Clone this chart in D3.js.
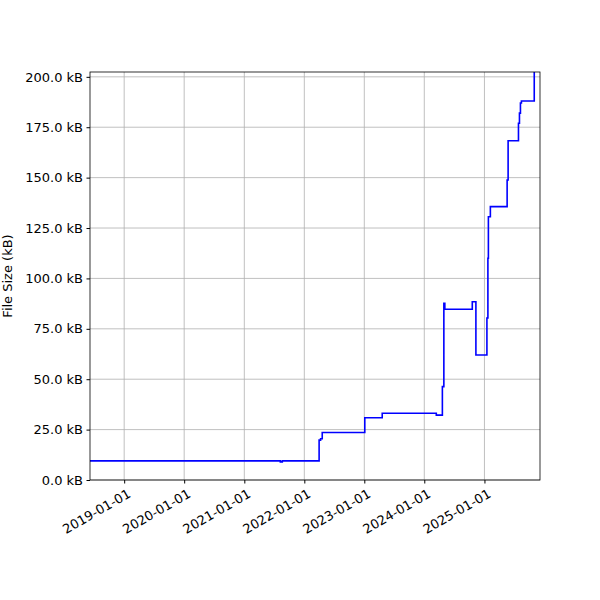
<!DOCTYPE html><html><head><meta charset="utf-8"><script src="https://cdn.jsdelivr.net/npm/d3@7"></script>
<style>body{margin:0;background:#fff}text{font-family:"DejaVu Sans",sans-serif;font-size:13px}</style></head><body><svg id="c" width="600" height="600"></svg><script>
const dates=["2018-06-01","2021-08-08","2021-08-20","2022-04-01","2022-04-10","2022-04-20","2023-01-04","2023-04-20","2024-03-14","2024-04-20","2024-04-29","2024-05-05","2024-10-19","2024-11-10","2025-01-16","2025-01-22","2025-01-25","2025-02-06","2025-05-19","2025-05-25","2025-07-27","2025-08-02","2025-08-08","2025-08-14","2025-10-31","2025-12-31"];
const sizes=[9.5,9.0,9.5,19.8,20.5,23.6,30.9,33.1,32.2,46.3,87.6,84.7,88.4,62.0,80.4,110.0,130.6,135.6,148.8,168.3,177.0,182.0,187.0,188.0,210,210];
const yTicks=[0,25,50,75,100,125,150,175,200];
const xTicks=["2019-01-01","2020-01-01","2021-01-01","2022-01-01","2023-01-01","2024-01-01","2025-01-01"];
const p=d3.timeParse("%Y-%m-%d");
const data=dates.map((d,i)=>({d:p(d),v:sizes[i]}));
const L=90,R=540,T=72,B=480;
const x=d3.scaleTime().domain([p("2018-06-07"),p("2025-12-05")]).range([L,R]);
const y=d3.scaleLinear().domain([0,202.4]).range([B,T]);
const svg=d3.select("#c");
svg.append("g").selectAll("line").data(xTicks).join("line").attr("x1",d=>x(p(d))).attr("x2",d=>x(p(d))).attr("y1",T).attr("y2",B).attr("stroke","#b0b0b0").attr("stroke-width",0.8);
svg.append("g").selectAll("line").data(yTicks).join("line").attr("y1",d=>y(d)).attr("y2",d=>y(d)).attr("x1",L).attr("x2",R).attr("stroke","#b0b0b0").attr("stroke-width",0.8);
svg.append("defs").append("clipPath").attr("id","cl").append("rect").attr("x",L).attr("y",T).attr("width",R-L).attr("height",B-T);
svg.append("path").datum(data).attr("clip-path","url(#cl)").attr("fill","none").attr("stroke","#0000ff").attr("stroke-width",1.6)
 .attr("d",d3.line().x(d=>x(d.d)).y(d=>y(d.v)).curve(d3.curveStepAfter));
const ya=svg.append("g").attr("transform",`translate(${L},0)`).call(d3.axisLeft(y).tickValues(yTicks).tickFormat(d=>d3.format(".1f")(d)+" kB").tickSize(3.5).tickPadding(3.5));
const xa=svg.append("g").attr("transform",`translate(0,${B})`).call(d3.axisBottom(x).tickValues(xTicks.map(p)).tickFormat(d3.timeFormat("%Y-%m-%d")).tickSize(3.5).tickPadding(0));
xa.selectAll("text").attr("text-anchor","end").attr("y",0).attr("transform","translate(2,8) rotate(-30)").attr("dy","0.75em");
svg.selectAll(".domain").remove();
svg.selectAll(".tick text").attr("fill","#000").style("font-size","13px");
svg.append("rect").attr("x",L).attr("y",T).attr("width",R-L).attr("height",B-T).attr("fill","none").attr("stroke","#000").attr("stroke-width",0.8);
svg.append("text").attr("transform",`translate(12,${(T+B)/2}) rotate(-90)`).attr("text-anchor","middle").style("font-size","13px").text("File Size (kB)");
</script></body></html>
